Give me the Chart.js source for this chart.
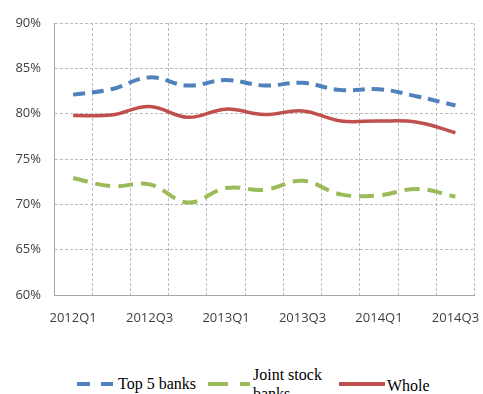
<!DOCTYPE html>
<html>
<head>
<meta charset="utf-8">
<script src="https://cdn.jsdelivr.net/npm/chart.js@4.4.0/dist/chart.umd.min.js"></script>
<style>
html, body { margin: 0; padding: 0; background: #fff; overflow: hidden; width: 483px; height: 394px; }
#wrap { position: relative; width: 483px; height: 394px; overflow: hidden; }
#grafico { position: absolute; left: 0; top: 0; }
.legenda { position: absolute; font-family: "Liberation Serif", "Times New Roman", serif; font-size: 16px; line-height: 15px; color: #000; white-space: nowrap; }
.amostra { position: absolute; }
</style>
</head>
<body>
<div id="wrap">
    <canvas id="grafico" width="495" height="335"></canvas>
    <svg class="amostra" style="left:75px;top:377px" width="42" height="14"><line x1="2" y1="7" x2="38" y2="7" stroke="#4f81bd" stroke-width="4" stroke-dasharray="13 11"/></svg>
    <div class="legenda" style="left:118px;top:376px">Top 5 banks</div>
    <svg class="amostra" style="left:206px;top:377px" width="48" height="14"><line x1="2" y1="7" x2="44" y2="7" stroke="#9bbb59" stroke-width="4" stroke-dasharray="20 12"/></svg>
    <div class="legenda" style="left:253px;top:365px;line-height:19px">Joint stock<br>banks</div>
    <svg class="amostra" style="left:337px;top:377px" width="50" height="14"><line x1="2" y1="7" x2="48" y2="7" stroke="#c0504d" stroke-width="4"/></svg>
    <div class="legenda" style="left:387px;top:378px">Whole</div>
</div>
<script>
const trimestres = ['2012Q1', '2012Q2', '2012Q3', '2012Q4', '2013Q1', '2013Q2', '2013Q3', '2013Q4', '2014Q1', '2014Q2', '2014Q3'];
const top5Bancos = [82.1, 82.7, 84.0, 83.1, 83.7, 83.1, 83.4, 82.6, 82.7, 81.9, 80.9];
const bancosAcionistas = [72.9, 72.0, 72.2, 70.2, 71.8, 71.6, 72.6, 71.1, 71.0, 71.7, 70.85];
const totalGeral = [79.8, 79.85, 80.8, 79.6, 80.5, 79.9, 80.3, 79.2, 79.2, 79.05, 77.9];
const ticksY = [60, 65, 70, 75, 80, 85, 90];

const fonteEixo = { family: '"Open Sans", sans-serif', size: 13 };

const ctx = document.getElementById('grafico').getContext('2d');
new Chart(ctx, {
    type: 'line',
    data: {
        labels: trimestres,
        datasets: [{
            label: 'Top 5 banks',
            data: top5Bancos,
            borderColor: '#4f81bd',
            borderWidth: 4,
            borderDash: [12, 7],
            tension: 0.4,
            pointRadius: 0
        }, {
            label: 'Joint stock banks',
            data: bancosAcionistas,
            borderColor: '#9bbb59',
            borderWidth: 4,
            borderDash: [15, 8],
            tension: 0.4,
            pointRadius: 0
        }, {
            label: 'Whole',
            data: totalGeral,
            borderColor: '#c0504d',
            borderWidth: 3.5,
            tension: 0.4,
            pointRadius: 0
        }]
    },
    options: {
        responsive: false,
        animation: false,
        layout: { padding: { top: 23, right: 20, left: 0, bottom: 0 } },
        plugins: {
            legend: { display: false },
            tooltip: { enabled: false }
        },
        scales: {
            x: {
                offset: true,
                grid: { offset: true, color: '#bdbdbd', drawTicks: false },
                border: { color: '#a6a6a6', dash: [3, 2] },
                ticks: {
                    autoSkip: false,
                    maxRotation: 0,
                    padding: 15,
                    color: '#404040',
                    font: fonteEixo,
                    callback: (v, i) => i % 2 === 0 ? trimestres[i] : ''
                },
                afterFit: (s) => { s.height = 40; }
            },
            y: {
                min: 60,
                max: 90,
                grid: { color: '#bdbdbd', drawTicks: false },
                border: { color: '#a6a6a6', dash: [3, 2] },
                afterBuildTicks: (s) => { s.ticks = ticksY.map(v => ({ value: v })); },
                ticks: {
                    padding: 13,
                    color: '#404040',
                    font: fonteEixo,
                    callback: (v) => v + '%'
                },
                afterFit: (s) => { s.width = 54; }
            }
        }
    }
});
</script>
</body>
</html>
